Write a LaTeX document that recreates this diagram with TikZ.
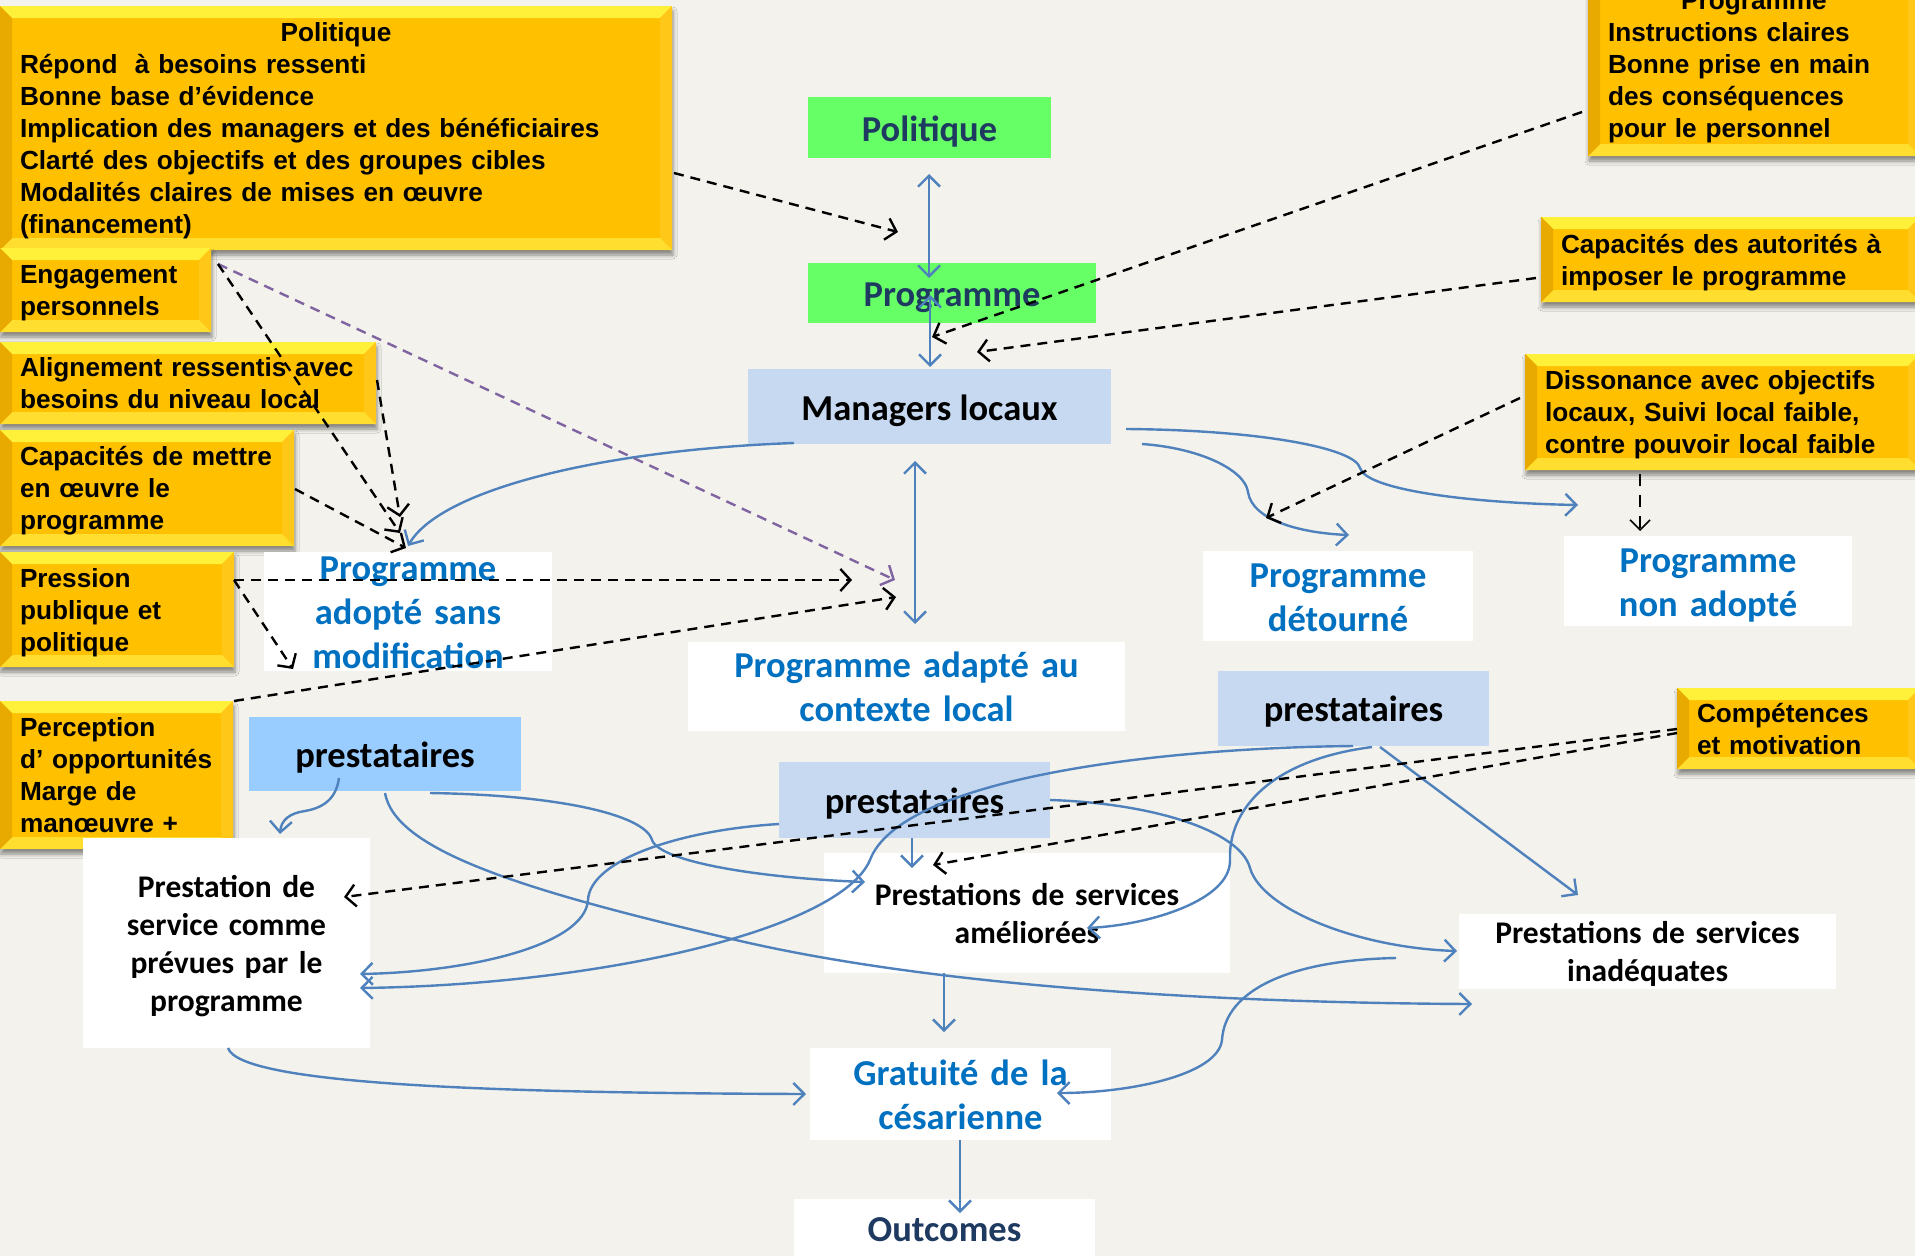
\documentclass[tikz,border=0pt]{standalone}
\usepackage{fontspec}
\setmainfont{Carlito}
\newfontfamily\arialfont{Liberation Sans}
\usetikzlibrary{arrows.meta,shadows.blur}

\definecolor{bgc}{HTML}{F3F2EC}
\definecolor{gold}{HTML}{FFC000}
\definecolor{goldtop}{HTML}{FFF03A}
\definecolor{goldleft}{HTML}{E8AA00}
\definecolor{goldbot}{HTML}{FFDE30}
\definecolor{goldright}{HTML}{FFC818}
\definecolor{greenbox}{HTML}{66FF66}
\definecolor{lblue}{HTML}{C6D9F1}
\definecolor{sblue}{HTML}{99CCFF}
\definecolor{navy}{HTML}{1F3A60}
\definecolor{tblue}{HTML}{0070C0}
\definecolor{lineblue}{HTML}{4F81BD}
\definecolor{purp}{HTML}{8064A2}

\newcommand\bev{12pt}
% first-line struts (yellow boxes), and fixed first-line heights / no last-line depth (other boxes)
\newcommand\fs{\rule{0pt}{1.12em}}
\newcommand\fa{\rule{0pt}{27.7pt}}
\newcommand\fb{\rule{0pt}{23.9pt}}
\newcommand\nd[1]{\raisebox{0pt}[\height][0pt]{#1}}

\tikzset{
  ybox/.style={fill=gold, inner xsep=20pt, inner ysep=0pt, align=left,
    font=\arialfont\bfseries\fontsize{26.2}{32}\selectfont,
    blur shadow={shadow xshift=1pt, shadow yshift=-5pt, shadow blur radius=4pt, shadow opacity=45},
    path picture={
      \coordinate (pa) at (path picture bounding box.north west);
      \coordinate (pb) at (path picture bounding box.north east);
      \coordinate (pc) at (path picture bounding box.south east);
      \coordinate (pd) at (path picture bounding box.south west);
      \coordinate (qa) at ([xshift=\bev,yshift=-\bev]pa);
      \coordinate (qb) at ([xshift=-\bev,yshift=-\bev]pb);
      \coordinate (qc) at ([xshift=-\bev,yshift=\bev]pc);
      \coordinate (qd) at ([xshift=\bev,yshift=\bev]pd);
      \fill[goldtop] (pa)--(pb)--(qb)--(qa)--cycle;
      \fill[goldright] (pb)--(pc)--(qc)--(qb)--cycle;
      \fill[goldbot] (pc)--(pd)--(qd)--(qc)--cycle;
      \fill[goldleft] (pd)--(pa)--(qa)--(qd)--cycle;
    }},
  gbox/.style={fill=greenbox, text=navy, inner sep=0pt, font=\bfseries\fontsize{36.5}{44}\selectfont},
  lbbox/.style={fill=lblue, text=black, inner sep=0pt, font=\bfseries\fontsize{36.5}{44}\selectfont},
  wbbox/.style={fill=white, text=tblue, inner sep=0pt, align=center, font=\bfseries\fontsize{36.5}{44}\selectfont},
  wkbox/.style={fill=white, text=black, inner sep=0pt, align=center, font=\bfseries\fontsize{31.5}{38}\selectfont},
  blueline/.style={draw=lineblue, line width=2.4pt, -{Straight Barb[length=11pt,width=22pt]}},
  blueboth/.style={draw=lineblue, line width=2.4pt, {Straight Barb[length=11pt,width=22pt]}-{Straight Barb[length=11pt,width=22pt]}},
  dashline/.style={draw=black, line width=2.4pt, dash pattern=on 10pt off 7pt, -{Straight Barb[length=10pt,width=22pt]}},
  thindash/.style={draw=black, line width=1.6pt, dash pattern=on 12pt off 9pt, -{Straight Barb[length=10pt,width=20pt]}},
  purpline/.style={draw=purp, line width=2.4pt, dash pattern=on 10pt off 7pt, -{Straight Barb[length=10pt,width=22pt]}},
}

\begin{document}
\begin{tikzpicture}[x=1pt,y=-1pt]
\useasboundingbox (0,0) rectangle (1915,1256);
\clip (0,0) rectangle (1915,1256);
\fill[bgc] (0,0) rectangle (1915,1256);

% ---------- yellow factor boxes ----------
\node[ybox, text width=632pt, minimum height=244pt] (ypol) at (336,128)
 {\makebox[632pt]{\fs Politique}\\
  \mbox{Répond~\ à besoins ressenti}\\
  \mbox{Bonne base d’évidence}\\
  \mbox{Implication des managers et des bénéficiaires}\\
  \mbox{Clarté des objectifs et des groupes cibles}\\
  \mbox{Modalités claires de mises en œuvre}\\
  \mbox{(financement)\strut}};
\node[ybox, text width=171pt, minimum height=84pt] (yeng) at (105.5,290)
 {\mbox{\fs Engagement}\\ \mbox{personnels\strut}};
\node[ybox, text width=336pt, minimum height=82pt] (yali) at (188,383)
 {\mbox{\fs Alignement ressentis avec}\\ \mbox{besoins du niveau local\strut}};
\node[ybox, text width=254pt, minimum height=116pt] (ycap) at (147,488)
 {\mbox{\fs Capacités de mettre}\\ \mbox{en œuvre le}\\ \mbox{programme\strut}};
\node[ybox, text width=194pt, minimum height=115pt] (ypre) at (117,609.5)
 {\mbox{\fs Pression}\\ \mbox{publique et}\\ \mbox{politique\strut}};
\node[ybox, text width=193pt, minimum height=148pt] (yper) at (116.5,775)
 {\mbox{\fs Perception}\\ \mbox{d’ opportunités}\\ \mbox{Marge de}\\ \mbox{manœuvre +\strut}};
\node[ybox, text width=292pt, minimum height=184pt] (yprog) at (1754,64)
 {\makebox[292pt]{\fs Programme}\\
  \mbox{Instructions claires}\\
  \mbox{Bonne prise en main}\\
  \mbox{des conséquences}\\
  \mbox{pour le personnel\strut}};
\node[ybox, text width=339pt, minimum height=85pt] (yaut) at (1730.5,259.5)
 {\mbox{\fs Capacités des autorités à}\\ \mbox{imposer le programme\strut}};
\node[ybox, text width=355pt, minimum height=116pt] (ydis) at (1722.5,412)
 {\mbox{\fs Dissonance avec objectifs}\\ \mbox{locaux, Suivi local faible,}\\ \mbox{contre pouvoir local faible\strut}};
\node[ybox, text width=203pt, minimum height=81pt] (ycomp) at (1798.5,728.5)
 {\mbox{\fs Compétences}\\ \mbox{et motivation\strut}};

% ---------- main nodes ----------
\node[gbox, minimum width=243pt, minimum height=61pt] (pol) at (929.5,127.5) {\fa\nd{Politique}};
\node[gbox, minimum width=288pt, minimum height=60pt] (prog) at (952,293) {\fa\nd{Programme}};
\node[lbbox, minimum width=363pt, minimum height=75pt] (mgr) at (929.5,406.5) {\fa\nd{Managers locaux}};

\node[wbbox, text width=288pt, minimum height=119pt] (pasm) at (408,611)
 {\fa Programme\\adopté sans\\\nd{modification}};
\node[wbbox, text width=437pt, minimum height=89pt] (padapt) at (906.5,686)
 {\fa Programme adapté au\\\nd{contexte local}};
\node[wbbox, text width=270pt, minimum height=90pt] (pdet) at (1338,596)
 {\fa Programme\\\nd{détourné}};
\node[wbbox, text width=288pt, minimum height=90pt] (pnon) at (1708,581)
 {\fa Programme\\\nd{non adopté}};

\node[lbbox, minimum width=271pt, minimum height=75pt] (pr) at (1353.5,708) {\fa\nd{prestataires}};
\node[lbbox, minimum width=271pt, minimum height=76pt] (pm) at (914.5,800) {\fa\nd{prestataires}};
\node[lbbox, fill=sblue, minimum width=272pt, minimum height=74pt] (pl) at (385,754) {\fa\nd{prestataires}};

\node[wkbox, text width=287pt, minimum height=210pt] (psp) at (226.5,943)
 {\fb Prestation de\\service comme\\prévues par le\\\nd{programme}};
\node[wkbox, text width=406pt, minimum height=120pt] (pam) at (1027,913)
 {\fb Prestations de services\\\nd{améliorées}};
\node[wkbox, text width=377pt, minimum height=75pt] (pin) at (1647.5,951)
 {\fb Prestations de services\\\nd{inadéquates}};

\node[wbbox, text width=301pt, minimum height=92pt] (grat) at (960.5,1094)
 {\fa Gratuité de la\\\nd{césarienne}};
\node[wbbox, text=navy, text width=301pt, minimum height=62pt] (outc) at (944.5,1230) {Outcomes};

% ---------- connector end points ----------
\coordinate (polA) at (929,174);   \coordinate (progA) at (929,278);
\coordinate (progB) at (930,295);  \coordinate (mgrA) at (930,367);
\coordinate (mgrB) at (915,461);   \coordinate (padA) at (915,624);
\coordinate (mgrC) at (794,443);   \coordinate (pasmA) at (408,546);
\coordinate (mgrD) at (1126,429);  \coordinate (pnonA) at (1578,505);
\coordinate (mgrE) at (1142,444);  \coordinate (pdetA) at (1349,535);
\coordinate (plA) at (339,778);    \coordinate (pspA) at (280,834);
\coordinate (plB) at (385,793);    \coordinate (pinA) at (1472,1004);
\coordinate (plC) at (430,793);    \coordinate (pamA) at (865,882);
\coordinate (pmA) at (779,824);    \coordinate (pspB) at (360,974);
\coordinate (prA) at (1353,746);   \coordinate (pspC) at (360,988);
\coordinate (prB) at (1380,747);   \coordinate (pinB) at (1578,895);
\coordinate (prC) at (1372,747);   \coordinate (pamB) at (1087,928);
\coordinate (pmB) at (1050,800);   \coordinate (pinC) at (1457,951);
\coordinate (pinD) at (1396,958);  \coordinate (gratA) at (1057,1093);
\coordinate (pspD) at (228,1048);  \coordinate (gratB) at (806,1094);
\coordinate (pmC) at (912,838);    \coordinate (pamC) at (912,868);
\coordinate (pamD) at (944,973);   \coordinate (gratC) at (944,1032);
\coordinate (gratD) at (960,1140); \coordinate (outA) at (960,1213);

\coordinate (sA) at (674,173);   \coordinate (tA) at (898,232);
\coordinate (sB) at (1582,112);  \coordinate (tB) at (932,337);
\coordinate (sC) at (1536,278);  \coordinate (tC) at (977,352);
\coordinate (sD) at (1520,398);  \coordinate (tD) at (1266,518);
\coordinate (sE) at (1640,474);  \coordinate (tE) at (1640,531);
\coordinate (sF) at (218,264);   \coordinate (tF) at (400,533);
\coordinate (tG) at (895,580);
\coordinate (sH) at (377,380);   \coordinate (tH) at (400,517);
\coordinate (sI) at (295,489);   \coordinate (tI) at (406,548);
\coordinate (sJ) at (234,580);   \coordinate (tJ) at (852,580);
\coordinate (tK) at (293,669);
\coordinate (sL) at (234,701);   \coordinate (tL) at (896,597);
\coordinate (sM) at (1677,729);  \coordinate (tM) at (344,897);
\coordinate (sN) at (1677,733);  \coordinate (tN) at (933,865);

% ---------- blue connectors ----------
\draw[blueboth] (polA) -- (progA);
\draw[blueboth] (progB) -- (mgrA);
\draw[blueboth] (mgrB) -- (padA);
\draw[blueline] (mgrC) .. controls (600,450) and (440,490) .. (pasmA);
\draw[blueline] (mgrD) .. controls (1260,430) and (1355,448) .. (1360,468)
                       .. controls (1366,490) and (1470,503) .. (pnonA);
\draw[blueline] (mgrE) .. controls (1200,448) and (1245,470) .. (1248,492)
                       .. controls (1252,520) and (1300,533) .. (pdetA);
\draw[blueline] (plA) .. controls (336,800) and (322,808) .. (305,811)
                      .. controls (290,813) and (281,820) .. (pspA);
\draw[blueline] (plB) .. controls (395,850) and (520,890) .. (736,940)
                      .. controls (950,990) and (1250,1003) .. (pinA);
\draw[blueline] (plC) .. controls (560,795) and (645,815) .. (652,840)
                      .. controls (660,862) and (760,878) .. (pamA);
\draw[blueline] (pmA) .. controls (680,830) and (590,860) .. (588,900)
                      .. controls (585,945) and (470,972) .. (pspB);
\draw[blueline] (prA) .. controls (1150,748) and (900,780) .. (870,860)
                      .. controls (840,930) and (600,985) .. (pspC);
\draw[blueline] (prB) -- (pinB);
\draw[blueline] (prC) .. controls (1270,760) and (1228,810) .. (1230,860)
                      .. controls (1231,900) and (1150,925) .. (pamB);
\draw[blueline] (pmB) .. controls (1150,803) and (1240,830) .. (1250,868)
                      .. controls (1262,910) and (1360,948) .. (pinC);
\draw[blueline] (pinD) .. controls (1290,960) and (1225,990) .. (1222,1040)
                       .. controls (1218,1075) and (1130,1093) .. (gratA);
\draw[blueline] (pspD) .. controls (240,1085) and (500,1093) .. (gratB);
\draw[blueline] (pmC) -- (pamC);
\draw[blueline] (pamD) -- (gratC);
\draw[blueline] (gratD) -- (outA);

% ---------- dashed influences ----------
\draw[dashline] (sA) -- (tA);
\draw[dashline] (sB) -- (tB);
\draw[dashline] (sC) -- (tC);
\draw[dashline] (sD) -- (tD);
\draw[thindash] (sE) -- (tE);
\draw[purpline] (sF) -- (tG);
\draw[dashline] (sF) -- (tF);
\draw[dashline] (sH) -- (tH);
\draw[dashline] (sI) -- (tI);
\draw[dashline] (sJ) -- (tJ);
\draw[dashline] (sJ) -- (tK);
\draw[dashline] (sL) -- (tL);
\draw[dashline] (sM) -- (tM);
\draw[dashline] (sN) -- (tN);
\end{tikzpicture}
\end{document}
